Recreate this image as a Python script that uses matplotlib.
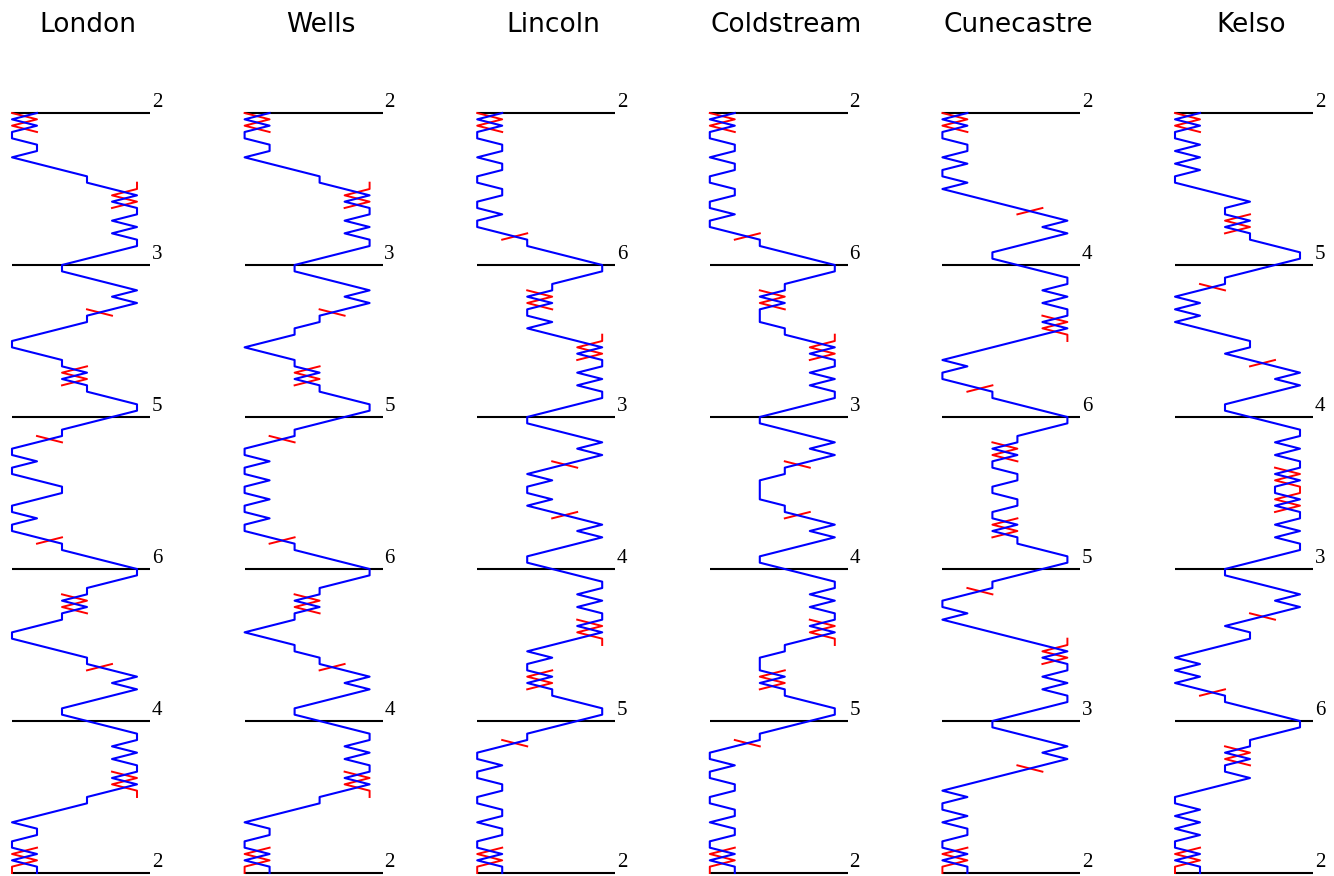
import matplotlib
matplotlib.use("Agg")
import matplotlib.pyplot as plt
from matplotlib import transforms

# Surprise Minor methods: plain course of the 2 (blue) and the treble (red)
methods = ["London", "Wells", "Lincoln", "Coldstream", "Cunecastre", "Kelso"]

# first half-lead (12 changes, the last is the half-lead change)
london_half = ["36", "x", "36", "14", "x", "12", "x", "36", "14", "x", "14", "36"]
wells_half = ["36", "x", "36", "14", "x", "12", "x", "36", "14", "x", "34", "16"]
lincoln_half = ["36", "x", "36", "14", "x", "12", "x", "36", "12", "x", "12", "36"]
coldstream_half = ["36", "x", "36", "14", "x", "12", "x", "36", "1234", "x", "1234", "36"]
cunecastre_half = ["36", "x", "36", "14", "x", "12", "x", "36", "x", "14", "x", "36"]
kelso_half = ["36", "x", "36", "14", "x", "x", "x", "36", "x", "x", "14", "56"]

half_leads = [london_half, wells_half, lincoln_half, coldstream_half,
              cunecastre_half, kelso_half]
lead_end_changes = ["12", "12", "12", "12", "12", "12"]

n_bells = 6
n_leads = 5
lead_len = 24


def swap(change, pos):
    # where a bell at 'pos' goes under one change
    places = set() if change == "x" else {int(c) for c in change}
    i = 1
    while i <= n_bells:
        if i in places:
            i += 1
            continue
        if pos == i:
            return i + 1
        if pos == i + 1:
            return i
        i += 2
    return pos


def course(half, le):
    lead = half + half[:-1][::-1] + [le]
    bell, treble = [2], [1]
    for _ in range(n_leads):
        for ch in lead:
            bell.append(swap(ch, bell[-1]))
            treble.append(swap(ch, treble[-1]))
    return bell, treble


fig = plt.figure(figsize=(13.34, 8.76), dpi=100)
W, H = 1334.0, 876.0

for i, name in enumerate(methods):
    bell, treble = course(half_leads[i], lead_end_changes[i])
    rows = list(range(len(bell)))

    x0 = 12 + 232.6 * i  # pixel of 1st place
    ax = fig.add_axes([(x0 - 12.5) / W, (H - 876.17) / H,
                       162.5 / W, (876.17 - 106.67) / H])
    ax.set_xlim(0.5, 7.0)
    ax.set_ylim(120.5, -1.0)
    ax.axis("off")

    # lead end lines and place-bell numbers
    for k in range(n_leads + 1):
        r = k * lead_len
        ax.plot([1, 6.52], [r, r], color="black", lw=1.5, clip_on=False,
                solid_capstyle="butt")
        ax.annotate(str(bell[r]), xy=(6.52, r), xytext=(1.2, 4.3),
                    textcoords="offset points", ha="left", va="baseline",
                    fontsize=15, family="Liberation Serif", color="black")

    # treble only where it meets the working bell
    runs, cur = [], []
    for r in range(len(rows) - 1):
        d0 = abs(treble[r] - bell[r])
        d1 = abs(treble[r + 1] - bell[r + 1])
        show = (d0 <= 1 and d1 <= 1) or (treble[r] == treble[r + 1] and min(d0, d1) <= 1)
        if show:
            if not cur:
                cur = [r]
            cur.append(r + 1)
        else:
            if cur:
                runs.append(cur)
            cur = []
    if cur:
        runs.append(cur)
    for run in runs:
        ax.plot([treble[r] for r in run], run, color="red", lw=1.4,
                clip_on=False, zorder=2)

    ax.plot(bell, rows, color="blue", lw=1.5, clip_on=False, zorder=3)

    tr = transforms.blended_transform_factory(ax.transData, fig.transFigure)
    ax.text(1 + 76 / 25.0, 1 - 25 / H, name, transform=tr, ha="center",
            va="center", fontsize=19, family="DejaVu Sans")

fig.savefig("out.png", dpi=100)
